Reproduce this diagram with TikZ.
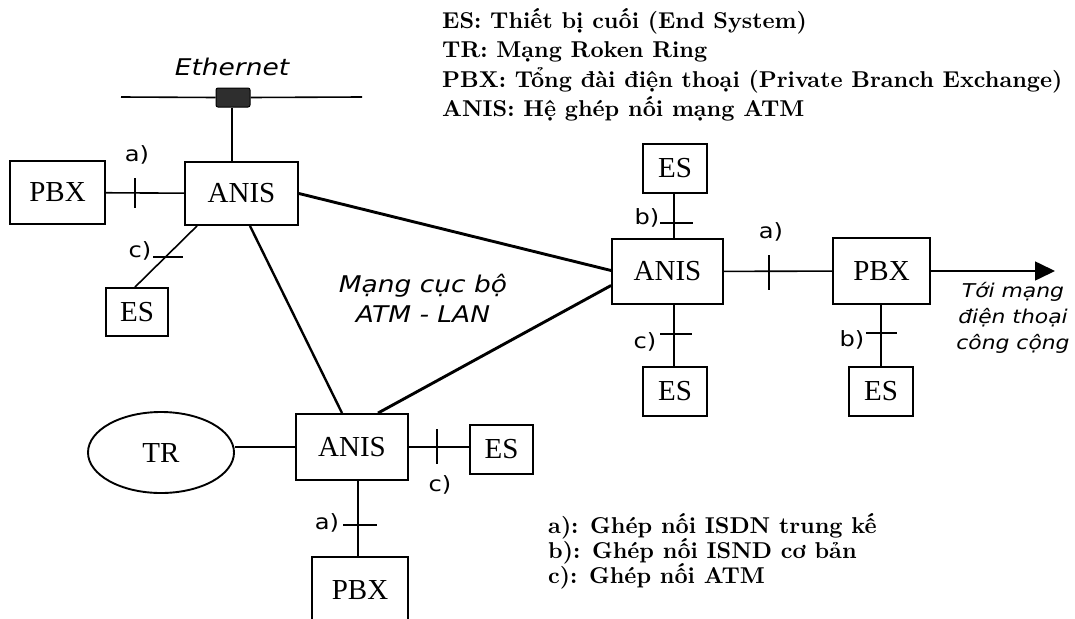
\documentclass[tikz,border=0pt]{standalone}
\usepackage{fontspec}
\newfontfamily\nodefont{Liberation Serif}
\newfontfamily\handfont[FakeStretch=1.15]{DejaVu Sans}
\newfontfamily\legfont[Extension=.otf, UprightFont=*-bold, BoldFont=*-bold]{lmroman10}
\usetikzlibrary{arrows.meta,shapes.geometric,calc}
\tikzset{
  box/.style={draw, line width=1.9pt, inner sep=0pt, font=\nodefont\fontsize{29}{31}\selectfont},
  conn/.style={line width=1.6pt},
  trunk/.style={line width=2.9pt},
  tickmark/.style={line width=1.6pt},
  lbl/.style={font=\handfont\fontsize{21}{23}\selectfont, inner sep=0pt},
  hand/.style={font=\handfont\itshape\fontsize{23}{30}\selectfont, inner sep=0pt, align=center},
  legend/.style={font=\legfont\fontsize{22.9}{25}\selectfont, anchor=base west, inner sep=0pt}
}
\begin{document}
\begin{tikzpicture}[x=1pt,y=-1pt]
\clip (0,0) rectangle (1075,618);
\fill[white] (0,0) rectangle (1075,618);
% legend top
\node[legend] (l1) at (442,28.5) {ES: Thiết bị cuối (End System)};
\node[legend] (l2) at (442,57.5) {TR: Mạng Roken Ring};
\node[legend] (l3) at (442,87.5) {PBX: Tổng đài điện thoại (Private Branch Exchange)};
\node[legend] (l4) at (442,116.5) {ANIS: Hệ ghép nối mạng ATM};
% legend bottom
\node[legend] (m1) at (548,533) {a): Ghép nối ISDN trung kế};
\node[legend] (m2) at (548,558) {b): Ghép nối ISND cơ bản};
\node[legend] (m3) at (548,583) {c): Ghép nối ATM};
% boxes
\node[box, minimum width=95pt, minimum height=63pt] (pbx1) at (57.5,192.5) {PBX};
\node[box, minimum width=113pt, minimum height=63pt] (anis1) at (241.5,193.5) {ANIS};
\node[box, minimum width=62pt, minimum height=48pt] (es1) at (137,312) {ES};
\node[box, minimum width=111pt, minimum height=65pt] (anis2) at (667.5,271.5) {ANIS};
\node[box, minimum width=64pt, minimum height=49pt] (es2) at (675,168.5) {ES};
\node[box, minimum width=64pt, minimum height=49pt] (es3) at (675,391.5) {ES};
\node[box, minimum width=97pt, minimum height=66pt] (pbx2) at (881.5,271) {PBX};
\node[box, minimum width=64pt, minimum height=49pt] (es4) at (881,391.5) {ES};
\node[box, minimum width=112pt, minimum height=66pt] (anis3) at (352,447) {ANIS};
\node[box, minimum width=63pt, minimum height=49pt] (es5) at (501.5,449.5) {ES};
\node[box, minimum width=96pt, minimum height=66pt] (pbx3) at (360,590) {PBX};
\node[box, ellipse, minimum width=146pt, minimum height=81pt] (tr) at (161,452.5) {TR};
% ethernet
\coordinate (ethL) at (121,97);
\coordinate (ethR) at (362,97);
\node[draw, fill=black!82, line width=1pt, rounded corners=2pt, minimum width=34pt, minimum height=19pt, inner sep=0pt] (eth) at (233,97.5) {};
\draw[conn] (ethL) -- (eth.west);
\draw[conn] (eth.east) -- (ethR);
\draw[conn] ($(eth.south)+(-1,0)$) -- ($(anis1.north)+(-9.5,0)$);
\node[hand] (ethlbl) at (232,67) {Ethernet};
% left connectors
\draw[conn] (pbx1) -- (anis1);
\draw[tickmark] (135,178) -- (135,208);
\node[lbl] (la1) at (137,155) {a)};
\draw[conn] ($(es1.north)+(-2,0)$) -- ($(anis1.south)+(-44.5,0)$);
\draw[tickmark] (153,257) -- (183,257);
\node[lbl] (lc1) at (140,251) {c)};
% trunk lines
\draw[trunk] (anis1.east) -- ($(anis2.west)+(0,-1)$);
\draw[trunk] ($(anis3.north)+(26,0)$) -- ($(anis2.west)+(0,14)$);
\draw[line width=2.4pt] ($(anis1.south)+(8.5,0)$) -- ($(anis3.north)+(-10,0)$);
\node[hand] (lan) at (423,298) {Mạng cục bộ\\ATM - LAN};
% right connectors
\draw[conn] ($(es2.south)+(-1,0)$) -- ($(es2.south |- anis2.north)+(-1,0)$);
\draw[tickmark] (660,223) -- (693,223);
\node[lbl] (lb1) at (647,218) {b)};
\draw[conn] ($(anis2.south -| es3.north)+(-1,0)$) -- ($(es3.north)+(-1,0)$);
\draw[tickmark] (660,334) -- (692,334);
\node[lbl] (lc2) at (645,342) {c)};
\draw[conn] (anis2) -- (pbx2);
\draw[tickmark] (769,255) -- (769,290);
\node[lbl] (la2) at (771,232) {a)};
\coordinate (arrowend) at (1055,271);
\draw[conn, -{Triangle[length=20pt,width=19pt]}] (pbx2.east) -- (arrowend);
\node[hand, font=\handfont\itshape\fontsize{19}{26}\selectfont] (pstn) at (1013,318) {Tới mạng\\điện thoại\\công cộng};
\draw[conn] (pbx2.south -| es4.north) -- (es4.north);
\draw[tickmark] (866,333) -- (897,333);
\node[lbl] (lb2) at (852,340) {b)};
% bottom connectors
\draw[conn] (anis3.west) -- (tr.east |- anis3.west);
\draw[conn] (anis3.east) -- (anis3.east -| es5.west);
\draw[tickmark] (437,429) -- (437,464);
\node[lbl] (lc3) at (440,485) {c)};
\draw[conn] ($(anis3.south)+(6,0)$) -- ($(pbx3.north)+(-2,0)$);
\draw[tickmark] (343,525) -- (377,525);
\node[lbl] (la3) at (327,523) {a)};
\end{tikzpicture}
\end{document}
